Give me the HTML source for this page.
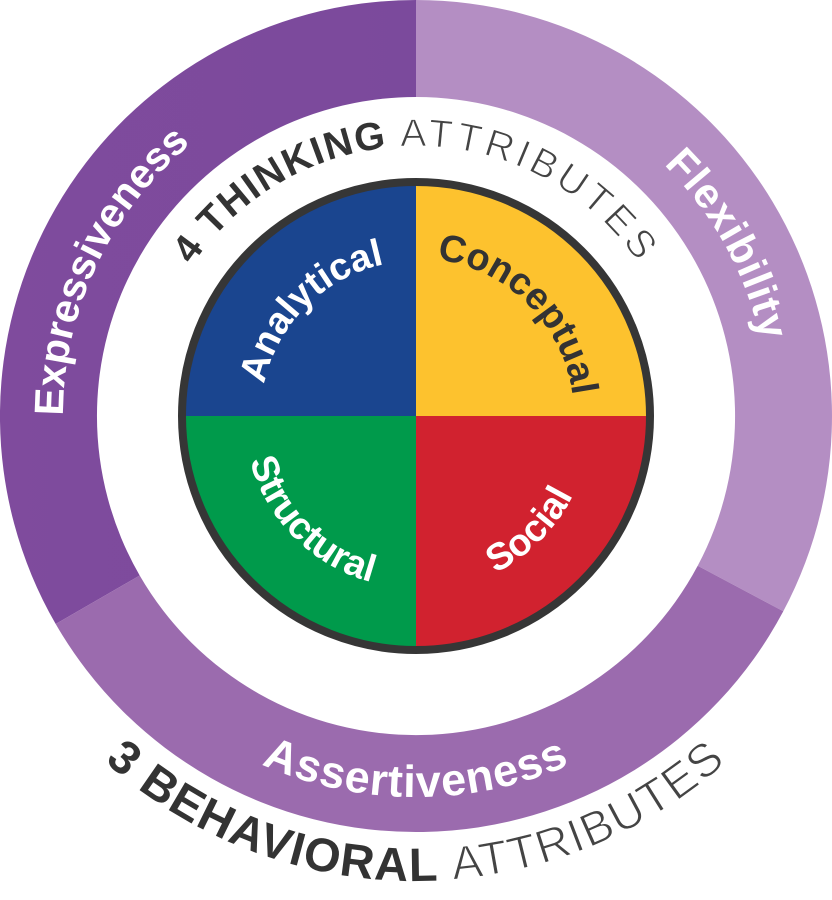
<!DOCTYPE html>
<html><head><meta charset="utf-8"><style>
html,body{margin:0;padding:0;background:#fff;}
svg{display:block;}
text{font-family:"Liberation Sans",sans-serif;}
</style></head><body>
<svg width="832" height="900" viewBox="0 0 832 900" xmlns="http://www.w3.org/2000/svg">
<defs>
<linearGradient id="gE" x1="0" y1="0" x2="1" y2="0">
<stop offset="0" stop-color="#7f4b9d"/><stop offset="1" stop-color="#7b4a9c"/>
</linearGradient>
<path id="pE" d="M110.3,592.5 A353,353 0 0 1 416,63"/>
<path id="pF" d="M416,63 A353,353 0 0 1 721.7,592.5"/>
<path id="pA" d="M86,606.5 A381,381 0 0 0 746,606.5"/>
<path id="pB" d="M87.2,744.8 A465,465 0 0 0 744.8,744.8"/>
<path id="pT" d="M162.3,323.7 A270,270 0 0 1 669.7,323.7"/>
<path id="pAn" d="M261,416 A155,155 0 0 1 416,261"/>
<path id="pCo" d="M416,258 A158,158 0 0 1 574,416"/>
<path id="pSt" d="M244,416 A172,172 0 0 0 416,588"/>
<path id="pSo" d="M416,592 A176,176 0 0 0 592,416"/>
</defs>
<path d="M55.7,624 A416,416 0 0 1 416,0 L416,97 A319,319 0 0 0 139.7,575.5 Z" fill="url(#gE)"/>
<path d="M416,0 A416,416 0 0 1 783.3,611.3 L697.7,565.8 A319,319 0 0 0 416,97 Z" fill="#b48ec3"/>
<path d="M783.3,611.3 A416,416 0 0 1 55.7,624 L139.7,575.5 A319,319 0 0 0 697.7,565.8 Z" fill="#9b6bae"/>
<path d="M416,416 L416,182 A234,234 0 0 0 182,416 Z" fill="#1a458f"/>
<path d="M416,416 L650,416 A234,234 0 0 0 416,182 Z" fill="#fdc22e"/>
<path d="M416,416 L182,416 A234,234 0 0 0 416,650 Z" fill="#009a4b"/>
<path d="M416,416 L416,650 A234,234 0 0 0 650,416 Z" fill="#d1222f"/>
<circle cx="416" cy="416" r="234" fill="none" stroke="#363636" stroke-width="8"/>
<text font-size="41" font-weight="bold" fill="#fff"><textPath href="#pE" startOffset="46%" text-anchor="middle">Expressiveness</textPath></text>
<text font-size="42" font-weight="bold" fill="#fff"><textPath href="#pF" startOffset="51%" text-anchor="middle" letter-spacing="1">Flexibility</textPath></text>
<text font-size="45" font-weight="bold" fill="#fff"><textPath href="#pA" startOffset="50%" text-anchor="middle" letter-spacing="1">Assertiveness</textPath></text>
<text font-size="47" fill="#333"><textPath href="#pB" startOffset="50%" text-anchor="middle" letter-spacing="1.5"><tspan font-weight="bold">3 BEHAVIORAL </tspan><tspan fill="#444" stroke="#fff" stroke-width="1.2">ATTRIBUTES</tspan></textPath></text>
<text font-size="39" fill="#333"><textPath href="#pT" startOffset="50%" text-anchor="middle" letter-spacing="1.5"><tspan font-weight="bold">4 THINKING </tspan><tspan fill="#444" stroke="#fff" stroke-width="1" letter-spacing="4">ATTRIBUTES</tspan></textPath></text>
<text font-size="38" font-weight="bold" fill="#fff"><textPath href="#pAn" startOffset="50%" text-anchor="middle">Analytical</textPath></text>
<text font-size="38" font-weight="bold" fill="#333"><textPath href="#pCo" startOffset="50%" text-anchor="middle">Conceptual</textPath></text>
<text font-size="38" font-weight="bold" fill="#fff"><textPath href="#pSt" startOffset="50%" text-anchor="middle">Structural</textPath></text>
<text font-size="38" font-weight="bold" fill="#fff"><textPath href="#pSo" startOffset="50%" text-anchor="middle">Social</textPath></text>
</svg>
</body></html>
